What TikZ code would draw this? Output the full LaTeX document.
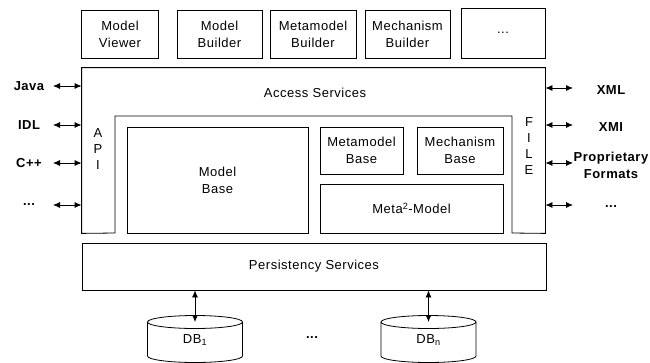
\documentclass[tikz,border=0pt]{standalone}
\usepackage{fontspec}
\setmainfont[LetterSpace=4]{Liberation Sans}
\usetikzlibrary{arrows.meta}
\newcommand{\threedots}{...}

\begin{document}
\begin{tikzpicture}[x=1pt, y=-1pt, line width=.8pt,
                        box/.style={draw, inner sep=0pt, align=center},
                        io/.style={{Latex[length=7pt,width=6pt]}-{Latex[length=7pt,width=6pt]}},
                        lbl/.style={font=\bfseries, align=center}]
      \useasboundingbox (0,0) rectangle (650,362);
      \fontsize{13}{17}\selectfont

      % tools on top
      \node[box, minimum width=77, minimum height=48] (viewer) at (120,34) {Model\\Viewer};
      \node[box, minimum width=85, minimum height=48] (mbuild) at (219.5,34) {Model\\Builder};
      \node[box, minimum width=86, minimum height=48] (mmbuild) at (313,34) {Metamodel\\Builder};
      \node[box, minimum width=85, minimum height=48] (mechbuild) at (407.5,34) {Mechanism\\Builder};
      \node[box, minimum width=84, minimum height=50] (more) at (503,33) {\threedots};

      % access services frame
      \node[minimum width=463, minimum height=165, inner sep=0pt] (acc) at (313.5,150.5) {};
      \draw (acc.north west) -- (acc.north east) -- (acc.south east) -- (512,233)
            -- (512,116) -- (115,116) -- (115,233) -- (acc.south west) -- cycle;
      \node (access) at (315,93) {Access Services};
      \node[align=center] (api) at (98,149) {A\\[-1pt]P\\[-1pt]I};
      \node[align=center] (file) at (529,146) {F\\[-1pt]I\\[-1pt]L\\[-1pt]E};

      \node[box, minimum width=181, minimum height=106] (mbase) at (217.5,180) {Model\\Base};
      \node[box, minimum width=83, minimum height=47] (mmbase) at (361.5,150.5) {Metamodel\\Base};
      \node[box, minimum width=86, minimum height=47] (mechbase) at (460,150.5) {Mechanism\\Base};
      \node[box, minimum width=183, minimum height=49] (meta2) at (411.5,208.5) {Meta\textsuperscript{2}-Model};

      \node[box, minimum width=464, minimum height=47] (pers) at (314,266.5) {Persistency Services};

      % languages and formats
      \foreach \y/\name/\txt in {86/java/Java, 125/idl/IDL, 163/cpp/C++, 205/ldots/\threedots} {
          \node[lbl] (\name) at (29,\y) {\txt};
          \coordinate (\name-a) at (53,\y);
          \draw[io] (\name-a) -- (\name-a -| acc.west);
      }
      \foreach \y/\name/\txt in {88/xml/XML, 125/xmi/XMI, 163/prop/{Proprietary\\Formats}, 205/rdots/\threedots} {
          \node[lbl] (\name) at (611,\y+2) {\txt};
          \coordinate (\name-a) at (573,\y);
          \draw[io] (\name-a -| acc.east) -- (\name-a);
      }

      % databases
      \foreach \x/\name/\txt in {195/dba/DB\textsubscript{1}, 428.5/dbn/DB\textsubscript{n}} {
          \draw (\x-47.5,322) -- (\x-47.5,356) arc[start angle=180, end angle=0, x radius=47.5, y radius=6.5] -- (\x+47.5,322);
          \draw (\x,322) ellipse [x radius=47.5, y radius=6.5];
          \coordinate (\name) at (\x,322);
          \node (\name-t) at (\x,340) {\txt};
          \draw[io] (\name |- pers.south) -- (\name);
      }
      \node[font=\bfseries] (dbdots) at (312,338) {\threedots};
    \end{tikzpicture}
\end{document}
